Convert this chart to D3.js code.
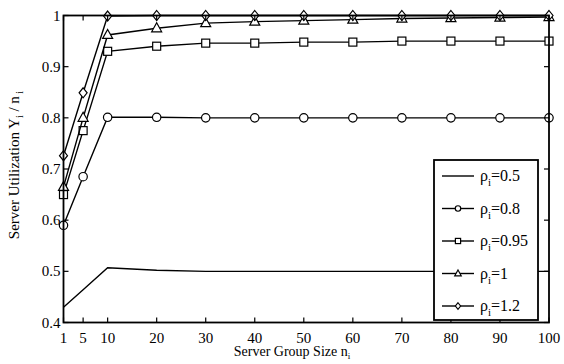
<!DOCTYPE html>
<html><head><meta charset="utf-8">
<script src="https://cdn.jsdelivr.net/npm/d3@7"></script>
<style>body{margin:0;background:#fff}svg{display:block}</style>
</head><body><svg id="c" width="564" height="364" font-family="Liberation Serif, Times New Roman, DejaVu Serif, serif"></svg>
<script>
const xs = [1,5,10,20,30,40,50,60,70,80,90,100];
const rho05 = [0.430,0.464,0.507,0.502,0.500,0.500,0.500,0.500,0.500,0.500,0.500,0.500];
const rho08 = [0.590,0.685,0.801,0.801,0.800,0.800,0.800,0.800,0.800,0.800,0.800,0.800];
const rho095 = [0.650,0.775,0.930,0.940,0.946,0.946,0.948,0.948,0.950,0.950,0.950,0.950];
const rho1 = [0.665,0.800,0.962,0.975,0.985,0.988,0.990,0.992,0.994,0.995,0.996,0.997];
const rho12 = [0.726,0.849,0.999,1.000,1.000,1.000,1.000,1.000,1.000,1.000,1.000,1.000];
const seriesNames = ["0.5","0.8","0.95","1","1.2"];
const markers = ["none","circle","square","triangle","diamond"];
const xTicks = [1,5,10,20,30,40,50,60,70,80,90,100];
const yTicks = [0.4,0.5,0.6,0.7,0.8,0.9,1];

const series = [rho05,rho08,rho095,rho1,rho12];
const svg = d3.select("#c");
const L=63.5,R=549,T=15.5,B=322.5;
const x = d3.scaleLinear().domain([1,100]).range([L,R]);
const y = d3.scaleLinear().domain([0.4,1]).range([B,T]);

function marker(g,type,cx,cy,s){
  s = s||1;
  if(type==="circle") g.append("circle").attr("cx",cx).attr("cy",cy).attr("r",4.2*s);
  else if(type==="square") g.append("rect").attr("x",cx-4*s).attr("y",cy-4*s).attr("width",8*s).attr("height",8*s);
  else if(type==="triangle") g.append("path").attr("d",`M${cx},${cy-5.5*s}L${cx+5*s},${cy+3.5*s}L${cx-5*s},${cy+3.5*s}Z`);
  else if(type==="diamond") g.append("path").attr("d",`M${cx},${cy-5*s}L${cx+4*s},${cy}L${cx},${cy+5*s}L${cx-4*s},${cy}Z`);
}

const line = d3.line().x((d,i)=>x(xs[i])).y(d=>y(d));
series.forEach((s,k)=>{
  svg.append("path").attr("d",line(s)).attr("fill","none").attr("stroke","#000").attr("stroke-width",1.4);
  const g = svg.append("g").attr("fill","#fff").attr("stroke","#000").attr("stroke-width",1.2);
  if(markers[k]!=="none") s.forEach((v,i)=>marker(g,markers[k],x(xs[i]),y(v)));
});

// frame
svg.append("rect").attr("x",L).attr("y",T).attr("width",R-L).attr("height",B-T)
  .attr("fill","none").attr("stroke","#000").attr("stroke-width",1.8);

// ticks
const tk = svg.append("g").attr("stroke","#000").attr("stroke-width",1.2);
xTicks.forEach(t=>{
  tk.append("line").attr("x1",x(t)).attr("x2",x(t)).attr("y1",B).attr("y2",B-5);
  tk.append("line").attr("x1",x(t)).attr("x2",x(t)).attr("y1",T).attr("y2",T+5);
});
yTicks.forEach(t=>{
  tk.append("line").attr("y1",y(t)).attr("y2",y(t)).attr("x1",L).attr("x2",L+5);
  tk.append("line").attr("y1",y(t)).attr("y2",y(t)).attr("x1",R).attr("x2",R-5);
});
svg.append("g").selectAll("text").data(xTicks).join("text")
  .attr("x",d=>x(d)).attr("y",B+20).attr("text-anchor","middle").attr("font-size",15).text(d=>d);
svg.append("g").selectAll("text").data(yTicks).join("text")
  .attr("x",L-3).attr("y",d=>y(d)+5).attr("text-anchor","end").attr("font-size",15).text(d=>d);

// axis labels
const xl = svg.append("text").attr("x",292).attr("y",356).attr("text-anchor","middle").attr("font-size",14);
xl.append("tspan").text("Server Group Size n");
xl.append("tspan").attr("font-size",9).attr("dy",3).text("i");
const yl = svg.append("text").attr("transform","translate(19,165) rotate(-90)").attr("text-anchor","middle").attr("font-size",15);
yl.append("tspan").text("Server Utilization Y");
yl.append("tspan").attr("font-size",10).attr("dy",4).text("i");
yl.append("tspan").attr("dy",-4).text(" / n");
yl.append("tspan").attr("font-size",10).attr("dy",4).text(" i");

// legend
const lg = svg.append("g");
lg.append("rect").attr("x",434).attr("y",160).attr("width",104).attr("height",160)
  .attr("fill","#fff").attr("stroke","#000").attr("stroke-width",1.8);
seriesNames.forEach((n,k)=>{
  const ly = 176 + k*32.5;
  lg.append("line").attr("x1",442).attr("x2",474).attr("y1",ly).attr("y2",ly).attr("stroke","#000").attr("stroke-width",1.4);
  const g = lg.append("g").attr("fill","#fff").attr("stroke","#000").attr("stroke-width",1.2);
  if(markers[k]!=="none") marker(g,markers[k],458,ly,0.65);
  const t = lg.append("text").attr("x",480).attr("y",ly+5).attr("font-size",16);
  t.append("tspan").text("ρ");
  t.append("tspan").attr("font-size",11).attr("dy",5).text("i");
  t.append("tspan").attr("dy",-5).text("=" + n);
});
</script></body></html>
